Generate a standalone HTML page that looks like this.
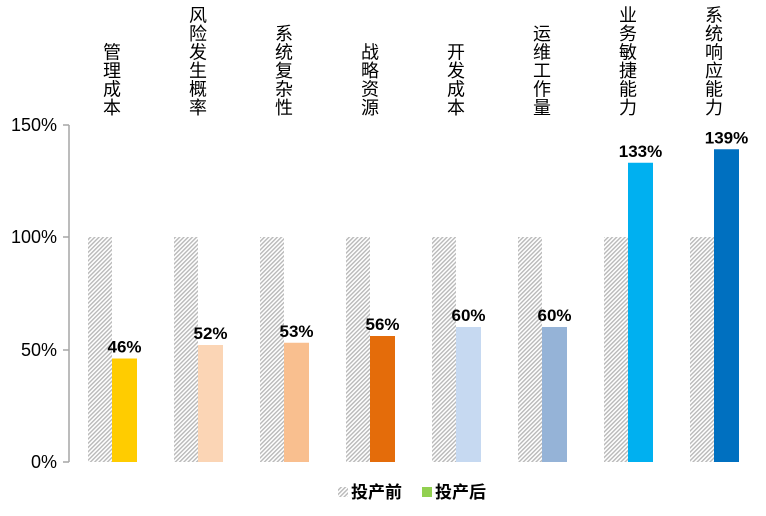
<!DOCTYPE html>
<html><head><meta charset="utf-8"><style>body{margin:0;background:#fff}svg{display:block}</style></head><body>
<svg width="766" height="516" xmlns="http://www.w3.org/2000/svg" font-family="Liberation Sans, Noto Sans CJK SC, sans-serif">
<defs><pattern id="h" width="3" height="3" patternUnits="userSpaceOnUse" patternTransform="rotate(45)"><rect width="3" height="3" fill="#fff"/><rect width="1.4" height="3" fill="#b8b8b8"/></pattern></defs>
<g stroke="#a6a6a6" stroke-width="1.5"><line x1="69" y1="125" x2="69" y2="462"/><line x1="63" y1="125" x2="69" y2="125"/><line x1="63" y1="237" x2="69" y2="237"/><line x1="63" y1="350" x2="69" y2="350"/><line x1="63" y1="462" x2="69" y2="462"/></g>
<g font-size="18" text-anchor="end" fill="#000"><text x="57" y="131">150%</text><text x="57" y="243">100%</text><text x="57" y="356">50%</text><text x="57" y="468">0%</text></g>
<g fill="url(#h)">
<rect x="88" y="237" width="24" height="225"/><rect x="174" y="237" width="24" height="225"/><rect x="260" y="237" width="24" height="225"/><rect x="346" y="237" width="24" height="225"/><rect x="432" y="237" width="24" height="225"/><rect x="518" y="237" width="24" height="225"/><rect x="604" y="237" width="24" height="225"/><rect x="690" y="237" width="24" height="225"/>
</g>
<rect x="112" y="358.5" width="25" height="103.5" fill="#FFCC00"/>
<rect x="198" y="345" width="25" height="117" fill="#FBD5B5"/>
<rect x="284" y="342.75" width="25" height="119.25" fill="#F9BF8F"/>
<rect x="370" y="336" width="25" height="126" fill="#E46C0A"/>
<rect x="456" y="327" width="25" height="135" fill="#C6D9F1"/>
<rect x="542" y="327" width="25" height="135" fill="#95B3D7"/>
<rect x="628" y="162.75" width="25" height="299.25" fill="#00B0F0"/>
<rect x="714" y="149.25" width="25" height="312.75" fill="#0070C0"/>
<g font-size="17" font-weight="bold" text-anchor="middle">
<text x="124.5" y="352.5">46%</text><text x="210.5" y="339">52%</text><text x="296.5" y="336.75">53%</text><text x="382.5" y="330">56%</text><text x="468.5" y="321">60%</text><text x="554.5" y="321">60%</text><text x="640.5" y="156.75">133%</text><text x="726.5" y="143.25">139%</text>
</g>
<g font-size="18" text-anchor="middle">
<text x="112" y="58.5">管</text><text x="112" y="77">理</text><text x="112" y="95.5">成</text><text x="112" y="114">本</text>
<text x="198" y="21.5">风</text><text x="198" y="40">险</text><text x="198" y="58.5">发</text><text x="198" y="77">生</text><text x="198" y="95.5">概</text><text x="198" y="114">率</text>
<text x="284" y="40">系</text><text x="284" y="58.5">统</text><text x="284" y="77">复</text><text x="284" y="95.5">杂</text><text x="284" y="114">性</text>
<text x="370" y="58.5">战</text><text x="370" y="77">略</text><text x="370" y="95.5">资</text><text x="370" y="114">源</text>
<text x="456" y="58.5">开</text><text x="456" y="77">发</text><text x="456" y="95.5">成</text><text x="456" y="114">本</text>
<text x="542" y="40">运</text><text x="542" y="58.5">维</text><text x="542" y="77">工</text><text x="542" y="95.5">作</text><text x="542" y="114">量</text>
<text x="628" y="21.5">业</text><text x="628" y="40">务</text><text x="628" y="58.5">敏</text><text x="628" y="77">捷</text><text x="628" y="95.5">能</text><text x="628" y="114">力</text>
<text x="714" y="21.5">系</text><text x="714" y="40">统</text><text x="714" y="58.5">响</text><text x="714" y="77">应</text><text x="714" y="95.5">能</text><text x="714" y="114">力</text>
</g>
<rect x="338" y="487" width="10" height="10" fill="url(#h)"/>
<text x="351" y="498" font-size="17" font-weight="bold">投产前</text>
<rect x="422" y="487" width="10" height="10" fill="#92D050"/>
<text x="435" y="498" font-size="17" font-weight="bold">投产后</text>
</svg>
</body></html>
